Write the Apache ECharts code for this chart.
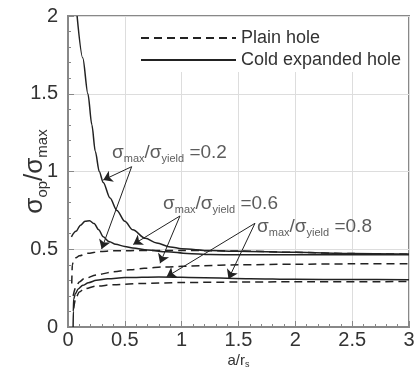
<!DOCTYPE html>
<html>
<head>
<meta charset="utf-8">
<script src="https://cdn.jsdelivr.net/npm/echarts@6/dist/echarts.min.js"></script>
<style>
  html, body { margin: 0; padding: 0; background: #fff; }
  #chart { width: 414px; height: 369px; }
</style>
</head>
<body>
<div id="chart"></div>
<script>
// curves, [a/r, sigma_op/sigma_max]
const cold02 = [[0.08,2.0],[0.13,1.73],[0.175,1.5],[0.21,1.3],[0.24,1.13],[0.275,1.0],[0.31,0.93],[0.37,0.83],[0.43,0.75],[0.5,0.68],[0.57,0.625],[0.68,0.57],[0.78,0.54],[0.9,0.515],[1.0,0.503],[1.25,0.492],[1.5,0.487],[2,0.48],[2.5,0.473],[3,0.469]];
const cold06 = [[0.03,0.58],[0.07,0.615],[0.11,0.655],[0.15,0.68],[0.19,0.683],[0.23,0.665],[0.27,0.625],[0.31,0.58],[0.36,0.55],[0.42,0.532],[0.5,0.518],[0.57,0.508],[0.7,0.495],[0.87,0.484],[1.05,0.473],[1.25,0.466],[1.5,0.464],[2,0.464],[2.5,0.464],[3,0.464]];
const cold08 = [[0.045,0],[0.047,0.1],[0.05,0.18],[0.065,0.215],[0.09,0.245],[0.13,0.268],[0.18,0.285],[0.25,0.3],[0.35,0.31],[0.5,0.318],[0.8,0.322],[1.2,0.317],[1.6,0.311],[2,0.307],[2.5,0.305],[3,0.304]];
const plain02 = [[0.033,0.28],[0.038,0.4],[0.05,0.43],[0.07,0.445],[0.1,0.458],[0.17,0.474],[0.28,0.485],[0.4,0.49],[0.7,0.492],[1,0.492],[1.5,0.489],[2,0.48],[2.5,0.472],[3,0.468]];
const plain06 = [[0.045,0.2],[0.07,0.26],[0.1,0.29],[0.14,0.31],[0.25,0.335],[0.4,0.355],[0.55,0.368],[0.67,0.378],[0.85,0.386],[1.16,0.394],[1.5,0.4],[2,0.404],[2.5,0.406],[3,0.407]];
const plain08 = [[0.05,0.12],[0.07,0.19],[0.1,0.225],[0.14,0.245],[0.25,0.263],[0.4,0.272],[0.67,0.28],[1,0.286],[1.5,0.289],[2,0.291],[3,0.292]];

// annotations: sigma_max/sigma_yield labels and their arrows
const ratioLabels = ['0.2', '0.6', '0.8'];
const labelAnchor = [[0.387,1.119],[0.836,0.791],[1.663,0.643]];
const arrowFrom = [[0.56,1.031],[0.985,0.714],[1.645,0.667]];
const arrowTo = [
  [[0.31,0.945],[0.296,0.502]],
  [[0.574,0.531],[0.81,0.41]],
  [[0.868,0.323],[1.412,0.309]],
];

const FONT = 'Liberation Sans, Arial, Helvetica, sans-serif';
const INK = '#222';
const TXT = '#333';

function curve(name, data, dashed) {
  return {
    name: name,
    type: 'line',
    data: data,
    symbol: 'none',
    smooth: 0.3,
    smoothMonotone: 'x',
    clip: true,
    lineStyle: { color: INK, width: 1.5, type: dashed ? [8, 5] : 'solid' },
    itemStyle: { color: INK },
  };
}

const arrowLines = [];
arrowFrom.forEach((p, i) => {
  arrowTo[i].forEach((q) => {
    arrowLines.push([{ coord: p }, { coord: q }]);
  });
});

const chart = echarts.init(document.getElementById('chart'), null, { renderer: 'canvas' });

chart.setOption({
  backgroundColor: '#fff',
  animation: false,
  textStyle: { fontFamily: FONT },
  grid: {
    left: 68, right: 5, top: 16, bottom: 42,
    outerBoundsMode: 'none',
    containLabel: false,
    show: true, borderColor: '#888', borderWidth: 2,
  },
  legend: {
    data: ['Plain hole', 'Cold expanded hole'],
    orient: 'vertical',
    left: 135, top: 17,
    padding: [12, 5, 3, 5],
    itemGap: 4,
    itemWidth: 95,
    itemHeight: 14,
    backgroundColor: '#fff',
    selectedMode: false,
    itemStyle: { opacity: 0 },
    textStyle: { color: TXT, fontSize: 18, fontFamily: FONT },
  },
  xAxis: {
    type: 'value',
    min: 0, max: 3, interval: 0.5,
    name: '{m|a/r}{sub|s}',
    nameLocation: 'middle',
    nameGap: 26,
    nameMoveOverlap: false,
    nameTextStyle: {
      rich: {
        m: { fontSize: 15, lineHeight: 16, color: TXT, fontFamily: FONT },
        sub: { fontSize: 9, lineHeight: 9, verticalAlign: 'bottom', color: TXT, fontFamily: FONT },
      },
    },
    axisLine: { lineStyle: { color: '#888', width: 2 } },
    axisTick: { inside: true, length: 6, lineStyle: { color: '#888' } },
    minorTick: { show: true, splitNumber: 5, length: 3, lineStyle: { color: '#888' } },
    axisLabel: { color: TXT, fontSize: 20, margin: 3, fontFamily: FONT },
    splitLine: { lineStyle: { color: '#ddd', width: 1 } },
  },
  yAxis: {
    type: 'value',
    min: 0, max: 2, interval: 0.5,
    name: '{s|σ}{sub|op}{s|/σ}{sub|max}',
    nameLocation: 'middle',
    nameGap: 18,
    nameMoveOverlap: false,
    nameTextStyle: {
      rich: {
        s: { fontSize: 26, lineHeight: 30, color: TXT, fontFamily: FONT },
        sub: { fontSize: 15, lineHeight: 14, verticalAlign: 'bottom', color: TXT, fontFamily: FONT },
      },
    },
    axisLine: { lineStyle: { color: '#888', width: 2 } },
    axisTick: { inside: true, length: 6, lineStyle: { color: '#888' } },
    minorTick: { show: true, splitNumber: 5, length: 3, lineStyle: { color: '#888' } },
    axisLabel: { color: TXT, fontSize: 20, margin: 10, fontFamily: FONT },
    splitLine: { lineStyle: { color: '#ddd', width: 1 } },
  },
  series: [
    curve('Plain hole', plain02, true),
    curve('Plain hole', plain06, true),
    curve('Plain hole', plain08, true),
    curve('Cold expanded hole', cold02, false),
    curve('Cold expanded hole', cold06, false),
    curve('Cold expanded hole', cold08, false),
    {
      name: 'ratio',
      type: 'scatter',
      symbolSize: 0,
      data: labelAnchor.map((p, i) => ({ value: p, ratio: ratioLabels[i] })),
      label: {
        show: true,
        position: 'right',
        distance: 0,
        color: TXT,
        formatter: (p) => '{s|σ}{sub|max}{s|/σ}{sub|yield}{s| =' + p.data.ratio + '}',
        rich: {
          s: { fontSize: 19, lineHeight: 22, color: TXT, fontFamily: FONT },
          sub: { fontSize: 11, lineHeight: 11, verticalAlign: 'bottom', color: TXT, fontFamily: FONT },
        },
      },
      markLine: {
        silent: true,
        symbol: ['none', 'arrow'],
        symbolSize: 9,
        label: { show: false },
        lineStyle: { color: INK, width: 1, type: 'solid' },
        data: arrowLines,
      },
    },
  ],
});
</script>
</body>
</html>
